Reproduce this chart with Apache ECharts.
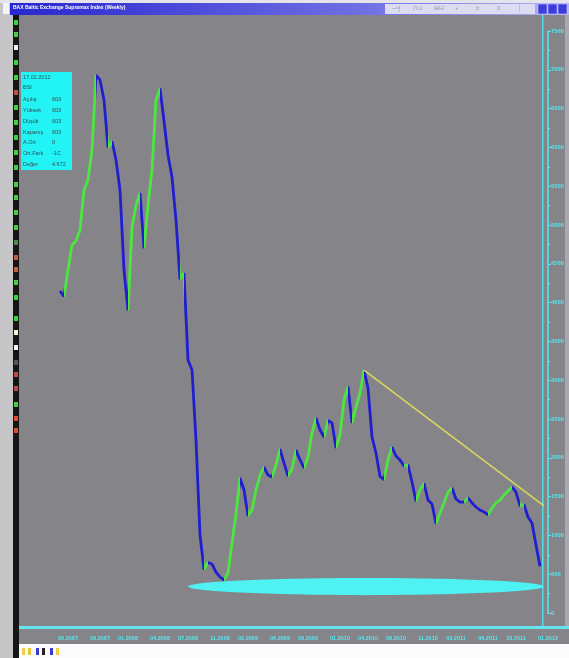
<!DOCTYPE html>
<html><head><meta charset="utf-8">
<script src="https://cdn.jsdelivr.net/npm/echarts@6/dist/echarts.min.js"></script>
<style>html,body{margin:0;padding:0;background:#fff}#c{width:569px;height:658px}</style>
</head><body><div id="c"></div>
<script>
// ---- data ----
const titleText = 'BAX Baltic Exchange Supramax Index (Weekly)';
const startDate = [2007, 6, 13]; // first weekly-bar date (year, monthIndex, day)
const stepDays = 14;
const categoryCount = 123;
const values = [
  4150, 4080, 4420, 4742, 4794, 4935, 5451, 5580, 5966, 6930,
  6869, 6611, 6000, 6080, 5840, 5451, 4420, 3900, 4974, 5258,
  5410, 4700, 5258, 5709, 6611, 6760, 6340, 5902, 5619, 5064,
  4300, 4380, 3260, 3131, 2229, 1005, 560, 650, 631, 528,
  464, 425, 515, 902, 1276, 1740, 1585, 1250, 1330, 1585,
  1778, 1881, 1778, 1753, 1907, 2113, 1933, 1765, 1856, 2100,
  1972, 1869, 2010, 2320, 2513, 2358, 2268, 2480, 2450, 2126,
  2294, 2745, 2920, 2450, 2655, 2835, 3131, 2899, 2268, 2062,
  1760, 1720, 1972, 2139, 2023, 1972, 1894, 1907, 1688, 1440,
  1585, 1670, 1456, 1405, 1150, 1289, 1418, 1560, 1610, 1469,
  1430, 1430, 1482, 1418, 1366, 1327, 1302, 1263, 1353, 1418,
  1456, 1521, 1572, 1625, 1559, 1380, 1400, 1237, 1160, 876,
  603
];
const tickIndex = [2, 10, 17, 25, 32, 40, 47, 55, 62, 70, 77, 84, 92, 99, 107, 114, 122];
const tickLabels = ['05.2007','09.2007','01.2008','04.2008','07.2008','11.2008','02.2009','06.2009',
  '09.2009','01.2010','04.2010','08.2010','11.2010','03.2011','06.2011','10.2011','01.2012'];
const yMin = 0, yMax = 7500, yStep = 500;
const trendLine = [[76, 3131], [121, 1380]];
const lowBand = {from: 32, to: 121, low: 230, high: 450};
const infoLabels = ['17.02.2012', 'BSI', 'Açılış', 'Yüksek', 'Düşük', 'Kapanış', 'A.Ort', 'Ort.Fark', 'Değer'];
const infoValues = ['', '', '603', '603', '603', '603', '0', '-1C', '4.672'];

// ---- build ----
const GREEN = '#4be63f', BLUE = '#1f1fd0', CYAN = '#55e8f0', GRAY = '#858489';
const pad = n => (n < 10 ? '0' : '') + n;
const categories = [];
for (let i = 0; i < categoryCount; i++) {
  const d = new Date(Date.UTC(startDate[0], startDate[1], startDate[2] + i * stepDays));
  categories.push(pad(d.getUTCDate()) + '.' + pad(d.getUTCMonth() + 1) + '.' + d.getUTCFullYear());
}
const pieces = [];
let s = null;
for (let i = 0; i < values.length - 1; i++) {
  const up = values[i + 1] > values[i];
  if (up && s === null) s = i;
  if (!up && s !== null) { pieces.push({gte: s, lte: i, color: GREEN}); s = null; }
}
if (s !== null) pieces.push({gte: s, lte: values.length - 1, color: GREEN});

const chart = echarts.init(document.getElementById('c'), null, {renderer: 'canvas'});
const FONT = '"Liberation Sans",Arial,sans-serif';
chart.setOption({
  animation: false,
  backgroundColor: GRAY,
  grid: {left: 60, right: 21, top: 31, bottom: 45},
  visualMap: {type: 'piecewise', show: false, dimension: 0, seriesIndex: 0, pieces: pieces, outOfRange: {color: BLUE}},
  xAxis: {
    type: 'category', data: categories, boundaryGap: false,
    axisLine: {show: false}, axisTick: {show: false}, splitLine: {show: false},
    axisLabel: {
      interval: (i) => tickIndex.indexOf(i) >= 0,
      formatter: (v, i) => { const k = tickIndex.indexOf(i); return k >= 0 ? tickLabels[k] : ''; },
      color: CYAN, fontSize: 5.5, fontFamily: FONT, fontWeight: 'bold', margin: 22,
      showMinLabel: true, showMaxLabel: true
    }
  },
  yAxis: {
    type: 'value', position: 'right', min: yMin, max: yMax, interval: yStep,
    axisLine: {show: true, lineStyle: {color: CYAN, width: 1.5}},
    axisTick: {show: true, length: 3, lineStyle: {color: CYAN}},
    minorTick: {show: true, splitNumber: 2, length: 2, lineStyle: {color: CYAN}},
    splitLine: {show: false},
    axisLabel: {color: CYAN, fontSize: 5.8, fontFamily: FONT, fontWeight: 'bold', margin: 3, formatter: v => String(v)}
  },
  series: [{
    type: 'line', data: values, symbol: 'none', z: 3,
    lineStyle: {width: 2.8},
    markLine: {
      silent: true, symbol: ['none', 'none'], label: {show: false},
      lineStyle: {color: '#d8d85c', width: 1.6, type: 'solid'},
      data: [[{coord: trendLine[0]}, {coord: trendLine[1]}]]
    }
  }]
});

const P = (x, y) => chart.convertToPixel({gridIndex: 0}, [x, y]);
const a = P(lowBand.from, lowBand.high), b = P(lowBand.to, lowBand.low);
const g = [];
// ellipse highlight
g.push({type: 'ellipse', z: 1, shape: {cx: (a[0] + b[0]) / 2, cy: (a[1] + b[1]) / 2, rx: (b[0] - a[0]) / 2, ry: (b[1] - a[1]) / 2}, style: {fill: '#4ff2f2'}});
// frame pieces
g.push({type: 'rect', z: 5, shape: {x: 0, y: 0, width: 13, height: 658}, style: {fill: '#c6c6c8'}});
g.push({type: 'rect', z: 5, shape: {x: 13, y: 0, width: 6, height: 658}, style: {fill: '#151515'}});
g.push({type: 'rect', z: 5, shape: {x: 0, y: 0, width: 569, height: 3}, style: {fill: '#e4e4ea'}});
g.push({type: 'rect', z: 5, shape: {x: 10, y: 3, width: 559, height: 12}, style: {fill: new echarts.graphic.LinearGradient(0, 0, 1, 0, [{offset: 0, color: '#2727cf'}, {offset: 0.65, color: '#7272e4'}, {offset: 1, color: '#b4b4f0'}])}});
g.push({type: 'rect', z: 6, shape: {x: 385, y: 4, width: 150, height: 10}, style: {fill: '#dcdcf2'}});
['~≈∫', '⊓⊔', '⊞⊟', '+', '±', '≡', '│'].forEach((t, i) => {
  g.push({type: 'text', z: 7, x: 392 + i * 21, y: 5, style: {text: t, fill: '#9a9aa8', font: '6px sans-serif'}});
});
[538, 548, 558].forEach((x, i) => {
  g.push({type: 'rect', z: 7, shape: {x: x, y: 4, width: 9, height: 10}, style: {fill: '#3c3cdc', stroke: '#c8c8ff', lineWidth: 0.6}});
});
g.push({type: 'rect', z: 6, shape: {x: 3, y: 3, width: 6, height: 11}, style: {fill: '#f4f4f4'}});
g.push({type: 'text', z: 7, x: 13, y: 5, style: {text: titleText, fill: '#ffffff', font: 'bold 5px ' + FONT}});
// bottom band
g.push({type: 'rect', z: 5, shape: {x: 19, y: 626, width: 550, height: 3}, style: {fill: '#63e6ee'}});
g.push({type: 'rect', z: 5, shape: {x: 19, y: 644, width: 550, height: 14}, style: {fill: '#fbfbfb'}});
[['#f0d040', 22], ['#e8c830', 28], ['#3a3ad0', 36], ['#222', 42], ['#3a3ad0', 50], ['#f0d040', 56]].forEach(([c, x]) => {
  g.push({type: 'rect', z: 6, shape: {x: x, y: 648, width: 3, height: 7}, style: {fill: c}});
});
g.push({type: 'rect', z: 5, shape: {x: 565, y: 15, width: 4, height: 611}, style: {fill: '#a8a8ae'}});
// vertical cyan marker line
g.push({type: 'rect', z: 4, shape: {x: 542, y: 15, width: 1.5, height: 612}, style: {fill: '#52dde6'}});
// left toolbar glyphs
[[20,'#3fd23f'],[32,'#3fd23f'],[45,'#f0f0f0'],[60,'#3fd23f'],[75,'#3fd23f'],[90,'#c05040'],[105,'#3fd23f'],[120,'#3fd23f'],[135,'#3fd23f'],
 [150,'#3fd23f'],[165,'#3fd23f'],[182,'#3fd23f'],[195,'#3fd23f'],[210,'#3fd23f'],[225,'#3fd23f'],[240,'#4a8a4a'],[255,'#c06040'],[267,'#c06040'],
 [280,'#3fd23f'],[295,'#3fd23f'],[316,'#3fd23f'],[330,'#f4f4d0'],[345,'#f4f4f0'],[360,'#555'],[372,'#c04848'],[386,'#c04848'],[402,'#3fd23f'],[416,'#e05030'],[428,'#e05030']]
 .forEach(([y, c]) => { g.push({type: 'rect', z: 6, shape: {x: 14, y: y, width: 4, height: 5}, style: {fill: c}}); });
// info box
g.push({type: 'rect', z: 6, shape: {x: 21, y: 72, width: 51, height: 98}, style: {fill: '#22f4f6'}});
const rowsY = [77, 87, 99, 110, 121, 132, 142, 153, 164];
infoLabels.forEach((t, i) => {
  g.push({type: 'text', z: 7, x: 23, y: rowsY[i] - 3, style: {text: t, fill: '#3a4a50', font: '5.5px ' + FONT}});
  if (infoValues[i]) g.push({type: 'text', z: 7, x: 52, y: rowsY[i] - 3, style: {text: infoValues[i], fill: '#3a4a50', font: '5.5px ' + FONT}});
});
chart.setOption({graphic: {elements: g}});
</script></body></html>
